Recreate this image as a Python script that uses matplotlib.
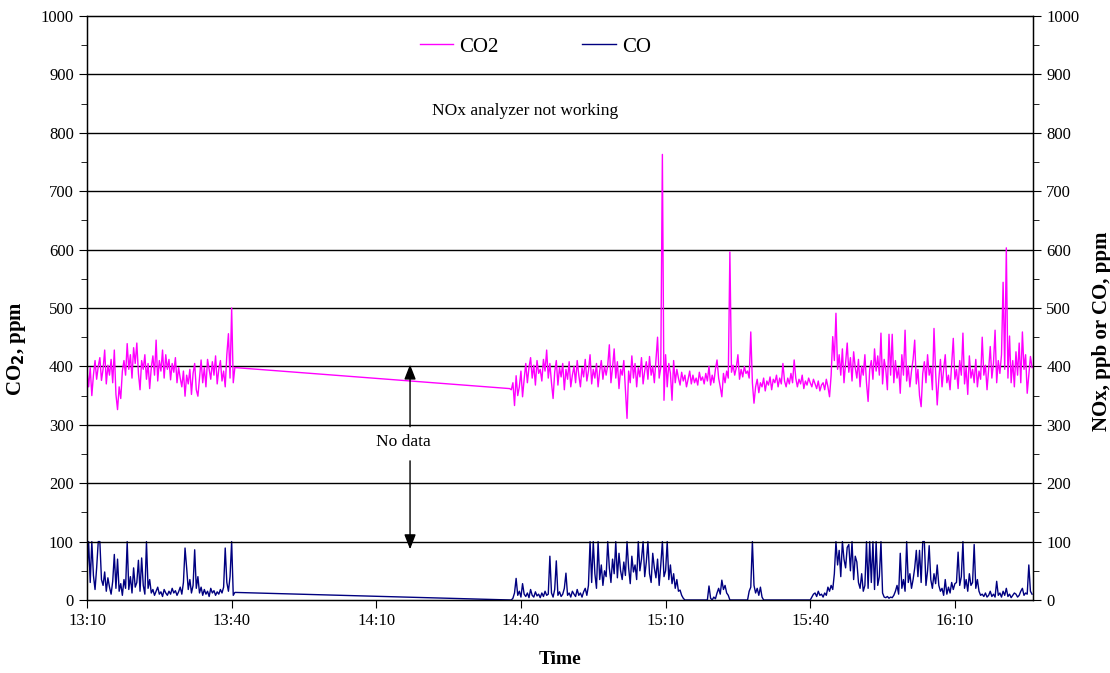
import numpy as np
import matplotlib
matplotlib.use("Agg")
import matplotlib.pyplot as plt
from matplotlib.ticker import FuncFormatter, MultipleLocator

plt.rcParams["font.family"] = ["Liberation Serif", "DejaVu Serif"]

# time in minutes after midnight; readings every 20 s
STEP_MIN = 1.0 / 3.0
SEG1_START = 13 * 60 + 10          # 13:10:00
SEG2_START = 14 * 60 + 37 + 40 / 60  # 14:37:40

co2_seg1 = [
    392, 365, 398, 350, 385, 410, 378, 400, 415, 376,
    395, 428, 370, 402, 385, 412, 372, 428, 352, 326,
    365, 345, 392, 410, 385, 439, 395, 420, 380, 432,
    405, 440, 388, 360, 410, 395, 420, 378, 405, 362,
    398, 418, 385, 445, 375, 410, 392, 428, 380, 420,
    395, 412, 377, 405, 390, 415, 372, 398, 380, 365,
    392, 349, 385, 370, 395, 352, 388, 405, 360, 349,
    380, 411, 372, 398, 365, 412, 395, 378, 408, 385,
    418, 370, 395, 410, 375, 392, 365, 420, 456, 380,
    500, 372, 398,
]
co_seg1 = [
    45, 100, 30, 100, 42, 18, 55, 100, 100, 35,
    25, 48, 15, 38, 22, 10, 32, 78, 20, 70,
    15, 28, 8, 35, 20, 100, 18, 40, 12, 55,
    22, 30, 68, 15, 72, 25, 10, 100, 20, 35,
    12, 18, 8, 15, 22, 10, 14, 6, 18, 12,
    8, 15, 10, 20, 12, 16, 8, 14, 22, 10,
    30, 89, 55, 18, 35, 12, 25, 86, 20, 40,
    12, 22, 8, 18, 10, 15, 6, 20, 12, 16,
    8, 14, 10, 18, 12, 22, 89, 30, 15, 40,
    100, 8, 13,
]

co2_seg2 = [
    362, 360, 372, 333, 384, 350, 365, 392, 348, 378,
    405, 372, 398, 415, 380, 402, 368, 410, 388, 395,
    375, 412, 392, 428, 380, 405, 372, 345, 390, 410,
    368, 398, 382, 405, 360, 395, 378, 408, 365, 385,
    400, 372, 410, 385, 365, 398, 382, 412, 375, 392,
    420, 370, 395, 380, 405, 365, 392, 410, 378, 400,
    385, 402, 437, 372, 398, 430, 380, 408, 362, 395,
    385, 410, 360, 311, 392, 372, 418, 380, 405, 365,
    398, 382, 415, 370, 392, 408, 378, 417, 385, 400,
    372, 412, 450, 380, 398, 763, 342, 420, 365, 405,
    388, 342, 410, 372, 395, 380, 368, 390, 375, 385,
    365, 378, 392, 370, 385, 372, 380, 368, 390, 376,
    382, 370, 388, 375, 400, 368, 385, 372, 395, 411,
    380, 365, 348, 388, 372, 392, 380, 596, 390, 402,
    385, 398, 420, 378, 395, 382, 400, 388, 392, 380,
    459, 372, 337, 365, 378, 355, 372, 365, 380, 358,
    375, 368, 382, 360, 378, 372, 385, 365, 380, 370,
    405, 375, 365, 380, 370, 388, 372, 411, 380, 365,
    378, 370, 385, 362, 375, 368, 380, 372, 365, 378,
    370, 362, 375, 358, 368, 372, 360, 378, 365, 348,
    385, 451, 410, 491, 395, 420, 385, 430, 372, 405,
    440, 390, 415, 375, 425, 398, 380, 412, 365, 400,
    385, 420, 372, 340, 395, 410, 378, 430, 392, 418,
    385, 457, 370, 412, 395, 360, 455, 385, 455, 372,
    410, 380, 398, 354, 420, 385, 462, 375, 400, 365,
    392, 412, 445, 370, 395, 350, 331, 388, 408, 372,
    420, 385, 398, 360, 465, 390, 334, 378, 412, 365,
    395, 420, 372, 385, 360, 405, 448, 378, 395, 362,
    410, 385, 457, 370, 398, 352, 418, 380, 395, 372,
    412, 365, 392, 378, 450, 385, 402, 360, 395, 434,
    380, 405, 462, 372, 410, 388, 420, 544, 395, 603,
    380, 452, 372, 410, 365, 425, 385, 440, 372, 459,
    395, 420, 354, 385, 417, 398,
]
co_seg2 = [
    0, 0, 3, 12, 37, 8, 15, 5, 28, 10,
    6, 12, 4, 18, 8, 5, 14, 7, 10, 4,
    12, 6, 15, 8, 10, 75, 12, 5, 18, 67,
    8, 14, 6, 10, 20, 46, 8, 12, 5, 15,
    10, 6, 18, 8, 12, 5, 14, 20, 8, 25,
    100, 30, 100, 45, 20, 100, 35, 60, 25, 50,
    40, 100, 55, 30, 70, 45, 100, 38, 80, 50,
    35, 65, 42, 100, 55, 28, 75, 48, 60, 35,
    100, 50, 70, 100, 40, 65, 100, 45, 30, 80,
    55, 38, 70, 25, 60, 100, 40, 50, 100, 35,
    60, 28, 45, 20, 35, 15, 17, 8, 3, 0,
    0, 0, 0, 0, 0, 0, 0, 0, 0, 0,
    0, 0, 0, 0, 24, 3, 0, 5, 2, 12,
    20, 10, 34, 18, 25, 12, 8, 0, 0, 0,
    0, 0, 0, 0, 0, 0, 0, 0, 0, 15,
    22, 100, 25, 12, 20, 8, 22, 5, 0, 0,
    0, 0, 0, 0, 0, 0, 0, 0, 0, 0,
    0, 0, 0, 0, 0, 0, 0, 0, 0, 0,
    0, 0, 0, 0, 0, 0, 0, 0, 5, 10,
    12, 6, 15, 8, 10, 5, 12, 8, 22, 15,
    25, 18, 45, 100, 60, 85, 40, 100, 70, 55,
    90, 95, 50, 100, 35, 75, 65, 30, 20, 45,
    15, 25, 100, 20, 100, 30, 100, 18, 100, 25,
    40, 100, 12, 5, 4, 6, 3, 5, 4, 8,
    15, 25, 10, 80, 20, 35, 15, 100, 30, 45,
    20, 35, 55, 85, 40, 85, 30, 100, 100, 25,
    50, 93, 35, 20, 45, 28, 60, 25, 15, 20,
    8, 35, 10, 22, 12, 30, 18, 28, 30, 82,
    25, 40, 100, 20, 35, 15, 45, 25, 30, 95,
    20, 35, 15, 8, 10, 6, 12, 5, 8, 15,
    6, 10, 5, 32, 8, 12, 5, 15, 8, 20,
    6, 10, 4, 8, 12, 10, 5, 8, 15, 20,
    8, 12, 10, 60, 15, 10,
]

x_ticks = ["13:10", "13:40", "14:10", "14:40", "15:10", "15:40", "16:10"]


def hhmm(s):
    h, m = s.split(":")
    return int(h) * 60 + int(m)


def fmt_time(v, pos):
    return f"{int(v // 60)}:{int(round(v % 60)):02d}"


t1 = SEG1_START + STEP_MIN * np.arange(len(co2_seg1))
t2 = SEG2_START + STEP_MIN * np.arange(len(co2_seg2))
t = np.concatenate([t1, t2])
co2 = np.array(co2_seg1 + co2_seg2, dtype=float)
co = np.array(co_seg1 + co_seg2, dtype=float)

fig = plt.figure(figsize=(11.1, 6.73), dpi=100)
ax = fig.add_axes([87 / 1110, 1 - 600 / 673, (1033 - 87) / 1110, (600 - 16) / 673])
ax2 = ax.twinx()

l2, = ax2.plot(t, co, color="#000080", lw=1.0, label="CO")
l1, = ax.plot(t, co2, color="#FF00FF", lw=1.0, label="CO2")
ax.set_zorder(ax2.get_zorder() + 1)
ax.patch.set_visible(False)

for a in (ax, ax2):
    a.set_ylim(0, 1000)
    a.yaxis.set_major_locator(MultipleLocator(100))
    a.yaxis.set_minor_locator(MultipleLocator(50))
    a.tick_params(axis="y", which="major", length=6, labelsize=12, direction="out")
    a.tick_params(axis="y", which="minor", length=4, direction="out")

ax.set_xlim(hhmm("13:10"), hhmm("13:10") + 196.2)
ax.set_xticks([hhmm(s) for s in x_ticks])
ax.xaxis.set_major_formatter(FuncFormatter(fmt_time))
ax.tick_params(axis="x", length=6, labelsize=12, direction="out")

for v in range(100, 1000, 100):
    ax.axhline(v, color="black", lw=1.0, zorder=0)

for sp in ax.spines.values():
    sp.set_linewidth(1.0)

ax.set_xlabel("Time", fontsize=14, fontweight="bold", labelpad=16)
ax.set_ylabel("CO$_\\mathbf{2}$, ppm", fontsize=15, fontweight="bold")
ax.yaxis.set_label_coords(-0.062, 0.43)
ax2.set_ylabel("NOx, ppb or CO, ppm", fontsize=15, fontweight="bold")
ax2.yaxis.set_label_coords(1.062, 0.46)

ax.legend([l1, l2], ["CO2", "CO"], loc="center", bbox_to_anchor=(0.474, 0.947),
          ncol=2, frameon=False, fontsize=15, columnspacing=4.0, handlelength=1.6,
          handletextpad=0.3)

ax.text(hhmm("14:40") + 0.8, 838, "NOx analyzer not working", ha="center", va="center",
        fontsize=12.5)

ax.text(hhmm("14:15") + 0.7, 270, "No data", ha="center", va="center", fontsize=12.5)
arrow = dict(arrowstyle="-|>,head_length=0.9,head_width=0.35", color="black", lw=1.0)
ax.annotate("", xy=(hhmm("14:17"), 408), xytext=(hhmm("14:17"), 292), arrowprops=arrow)
ax.annotate("", xy=(hhmm("14:17"), 82), xytext=(hhmm("14:17"), 243), arrowprops=arrow)

fig.savefig("out.png", dpi=100)
